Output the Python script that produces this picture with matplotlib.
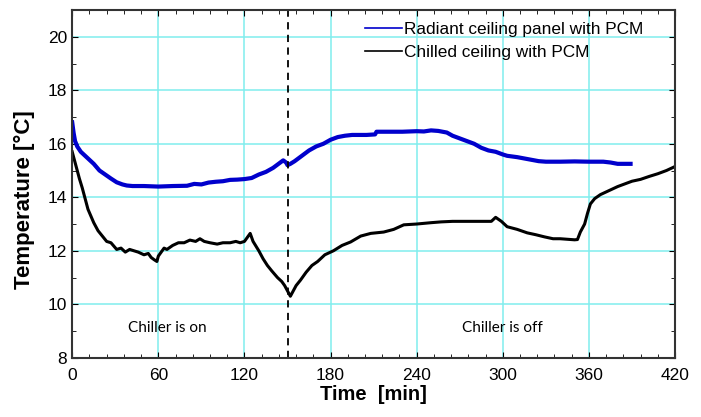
import matplotlib
matplotlib.use('Agg')
import matplotlib.pyplot as plt
from matplotlib.ticker import MultipleLocator

plt.rcParams['font.family'] = ['Liberation Sans', 'DejaVu Sans']

# radiant ceiling panel with PCM
t_rad = [0, 1, 2, 3.5, 6, 9, 12, 15, 19, 23, 27, 31, 35, 38, 42, 50, 60, 70, 80, 85,
         90, 95, 100, 105, 110, 115, 120, 125, 130, 135, 140, 145, 147, 149, 150, 152,
         155, 160, 165, 170, 175, 180, 185, 190, 195, 200, 205, 211, 212, 220, 230, 240,
         245, 250, 255, 258, 261, 265, 270, 275, 280, 285, 290, 295, 300, 303, 310, 315,
         320, 325, 330, 340, 350, 360, 370, 375, 380, 385, 389]
T_rad = [16.8, 16.4, 16.1, 15.9, 15.7, 15.55, 15.4, 15.25, 15.0, 14.85, 14.7, 14.56, 14.48,
         14.44, 14.42, 14.42, 14.4, 14.42, 14.43, 14.5, 14.48, 14.55, 14.58, 14.6, 14.65,
         14.66, 14.68, 14.72, 14.85, 14.95, 15.1, 15.3, 15.38, 15.3, 15.2, 15.25, 15.35,
         15.55, 15.75, 15.9, 16.0, 16.15, 16.25, 16.3, 16.33, 16.33, 16.33, 16.35, 16.45,
         16.45, 16.45, 16.47, 16.46, 16.5, 16.48, 16.45, 16.42, 16.3, 16.2, 16.1, 16.0,
         15.85, 15.75, 15.7, 15.6, 15.55, 15.5, 15.45, 15.4, 15.35, 15.33, 15.33, 15.34,
         15.33, 15.33, 15.3, 15.25, 15.25, 15.25]

# chilled ceiling with PCM
t_chl = [0, 1, 2, 3.5, 5, 7, 9, 11, 13, 15, 18, 21, 24, 27, 31, 34, 37, 40, 43, 46, 50,
         53, 55, 57, 59, 60, 62, 64, 66, 70, 74, 78, 82, 86, 89, 92, 96, 101, 105, 110,
         114, 117, 120, 122, 124, 126, 130, 133, 136, 139, 143, 146, 148, 150, 152, 154,
         156, 159, 163, 167, 171, 176, 182, 188, 194, 201, 208, 217, 224, 231, 240, 250,
         257, 265, 275, 285, 292, 295, 299, 303, 310, 317, 323, 329, 335, 340, 345, 350,
         352, 354, 357, 359, 361, 364, 368, 372, 376, 380, 385, 390, 396, 402, 408, 414,
         420]
T_chl = [15.7, 15.5, 15.3, 15.0, 14.7, 14.35, 13.95, 13.55, 13.3, 13.05, 12.75, 12.55,
         12.35, 12.3, 12.05, 12.1, 11.95, 12.05, 12.0, 11.95, 11.85, 11.9, 11.75, 11.67,
         11.6, 11.8, 11.95, 12.1, 12.05, 12.2, 12.3, 12.3, 12.4, 12.35, 12.45, 12.35, 12.3,
         12.25, 12.3, 12.3, 12.35, 12.3, 12.35, 12.5, 12.65, 12.35, 12.0, 11.7, 11.45,
         11.25, 11.0, 10.85, 10.7, 10.5, 10.3, 10.5, 10.7, 10.9, 11.2, 11.45, 11.6, 11.85,
         12.0, 12.2, 12.33, 12.55, 12.65, 12.7, 12.8, 12.97, 13.0, 13.05, 13.08, 13.1, 13.1,
         13.1, 13.1, 13.25, 13.1, 12.9, 12.8, 12.67, 12.6, 12.52, 12.45, 12.45, 12.43, 12.41,
         12.42, 12.7, 13.0, 13.4, 13.75, 13.95, 14.1, 14.2, 14.3, 14.4, 14.5, 14.6, 14.67,
         14.78, 14.88, 15.0, 15.15]

t_switch = 150

fig = plt.figure(figsize=(7.01, 4.17), dpi=100)
ax = fig.add_axes([0.103, 0.142, 0.860, 0.834])

ax.plot(t_rad, T_rad, color='#0000CC', lw=3, label='Radiant ceiling panel with PCM')
ax.plot(t_chl, T_chl, color='black', lw=2.2, label='Chilled ceiling with PCM')
ax.axvline(t_switch, color='black', ls=(0, (4, 3)), lw=1.3)

ax.set_xlim(0, 420)
ax.set_ylim(8, 21)
ax.xaxis.set_major_locator(MultipleLocator(60))
ax.xaxis.set_minor_locator(MultipleLocator(12))
ax.yaxis.set_major_locator(MultipleLocator(2))
ax.yaxis.set_minor_locator(MultipleLocator(1))
ax.grid(True, which='major', color='#80EEEE', lw=1.1)
ax.set_axisbelow(True)
ax.tick_params(which='both', direction='in', top=True, right=True, labelsize=12.5)
ax.tick_params(which='major', length=4)
ax.tick_params(which='minor', length=3)
ax.tick_params(axis='x', pad=7)
for s in ax.spines.values():
    s.set_linewidth(1.5)
    s.set_color('#333333')

ax.set_xlabel('Time  [min]', fontsize=14.5, fontweight='bold', labelpad=2)
ax.set_ylabel('Temperature [°C]', fontsize=16, fontweight='bold')
ax.yaxis.set_label_coords(-0.061, 0.454)

ax.text(66, 9.1, 'Chiller is on', fontsize=11, ha='center', va='center',
        family=['Lato', 'DejaVu Sans'])
ax.text(300, 9.1, 'Chiller is off', fontsize=11, ha='center', va='center',
        family=['Lato', 'DejaVu Sans'])

leg = ax.legend(loc='upper left', bbox_to_anchor=(0.486, 0.965), frameon=False,
                borderpad=0, borderaxespad=0, fontsize=12.4, handlelength=2.15,
                handletextpad=0.1, labelspacing=0.45)
for h in leg.get_lines():
    h.set_linewidth(1.2)

fig.savefig('out.png', dpi=100)
